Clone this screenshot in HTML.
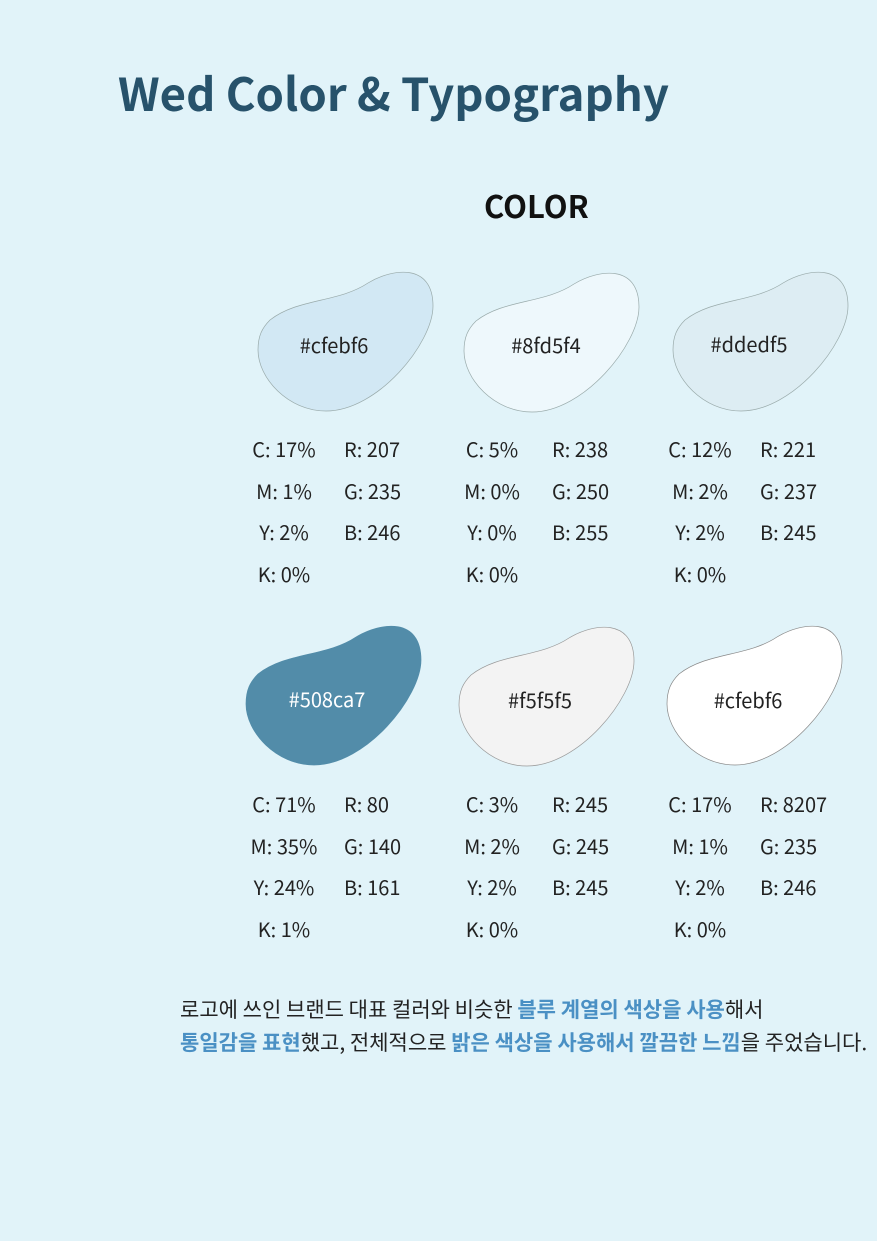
<!DOCTYPE html>
<html><head><meta charset="utf-8"><style>
body{margin:0;width:877px;height:1241px;background:#e1f3f9;position:relative;overflow:hidden;font-family:"Liberation Sans","Noto Sans CJK KR",sans-serif;}
.t{position:absolute;white-space:nowrap;color:#222;}
h1{position:absolute;left:118px;top:59px;margin:0;font-size:45.5px;color:#27526b;font-weight:bold;font-family:"Noto Sans CJK KR","Liberation Sans",sans-serif;}
.sub{left:484px;top:182px;font-size:31px;font-weight:bold;color:#111;font-family:"Noto Sans CJK KR",sans-serif;}
.v{font-size:20px;font-family:"Noto Sans CJK KR","Liberation Sans",sans-serif;color:#222;}
.p{left:180px;font-size:21px;font-family:"Noto Sans CJK KR",sans-serif;color:#222;}
.p b{color:#4a90c4;}
</style></head><body>
<h1>Wed Color &amp; Typography</h1>
<div class="t sub">COLOR</div>
<svg width="877" height="1241" style="position:absolute;left:0;top:0">
<defs><path id="blob" d="M12,52 C40,30 80,35 110,15 C135,0 175,-5 175,38 C175,75 120,143 68,143 C30,143 0,110 0,82 C0,68 4,60 12,52 Z"/></defs>
<g><use href="#blob" x="258" y="268" fill="#d2e8f4" stroke="#9aa" stroke-width="0.7"/><text x="334" y="353" text-anchor="middle" font-size="20" font-family="Noto Sans CJK KR,sans-serif" fill="#222">#cfebf6</text></g>
<g><use href="#blob" x="464" y="269" fill="#eef8fc" stroke="#9aa" stroke-width="0.7"/><text x="546" y="353" text-anchor="middle" font-size="20" font-family="Noto Sans CJK KR,sans-serif" fill="#222">#8fd5f4</text></g>
<g><use href="#blob" x="673" y="268" fill="#ddedf3" stroke="#9aa" stroke-width="0.7"/><text x="749" y="352" text-anchor="middle" font-size="20" font-family="Noto Sans CJK KR,sans-serif" fill="#222">#ddedf5</text></g>
<g><use href="#blob" x="246" y="622" fill="#528ca9" stroke="#528ca9" stroke-width="0.7"/><text x="327" y="707" text-anchor="middle" font-size="20" font-family="Noto Sans CJK KR,sans-serif" fill="#fff">#508ca7</text></g>
<g><use href="#blob" x="459" y="623" fill="#f3f3f3" stroke="#999" stroke-width="0.7"/><text x="540" y="708" text-anchor="middle" font-size="20" font-family="Noto Sans CJK KR,sans-serif" fill="#222">#f5f5f5</text></g>
<g><use href="#blob" x="667" y="622" fill="#fff" stroke="#888" stroke-width="0.7"/><text x="748" y="708" text-anchor="middle" font-size="20" font-family="Noto Sans CJK KR,sans-serif" fill="#222">#cfebf6</text></g>
</svg>
<div id="vals"></div>
<div class="t p" style="top:994px">로고에 쓰인 브랜드 대표 컬러와 비슷한 <b>블루 계열의 색상을 사용</b>해서</div>
<div class="t p" style="top:1027px"><b>통일감을 표현</b>했고, 전체적으로 <b>밝은 색상을 사용해서 깔끔한 느낌</b>을 주었습니다.</div>
<script>
const cmyk=[["C: 17%","M: 1%","Y: 2%","K: 0%"],["C: 5%","M: 0%","Y: 0%","K: 0%"],["C: 12%","M: 2%","Y: 2%","K: 0%"],["C: 71%","M: 35%","Y: 24%","K: 1%"],["C: 3%","M: 2%","Y: 2%","K: 0%"],["C: 17%","M: 1%","Y: 2%","K: 0%"]];
const rgb=[["R: 207","G: 235","B: 246"],["R: 238","G: 250","B: 255"],["R: 221","G: 237","B: 245"],["R: 80","G: 140","B: 161"],["R: 245","G: 245","B: 245"],["R: 8207","G: 235","B: 246"]];
const cx=[284,492,700,284,492,700], top0=[434,434,434,789,789,789];
const host=document.getElementById('vals');
cmyk.forEach((c,i)=>{c.forEach((s,j)=>{const d=document.createElement('div');d.className='t v';d.textContent=s;
d.style.left=(cx[i]-40)+'px';d.style.width='80px';d.style.textAlign='center';d.style.top=(top0[i]+j*41.7)+'px';


host.appendChild(d);});
rgb[i].forEach((s,j)=>{const d=document.createElement('div');d.className='t v';d.textContent=s;
d.style.left=(cx[i]+60)+'px';d.style.top=(top0[i]+j*41.7)+'px';


host.appendChild(d);});});
</script>
</body></html>
